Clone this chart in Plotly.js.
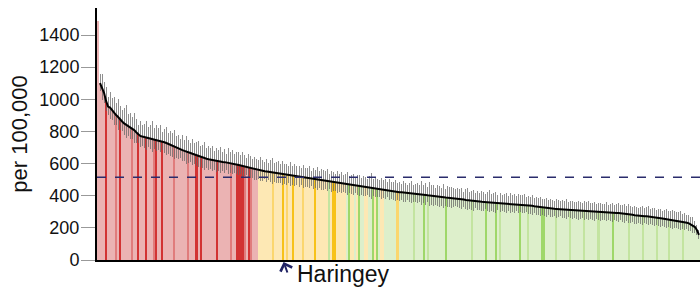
<!DOCTYPE html>
<html>
<head>
<meta charset="utf-8">
<script src="https://cdn.plot.ly/plotly-3.0.1.min.js"></script>
<style>html,body{margin:0;padding:0;background:#fff;}#chart{width:700px;height:291px;}</style>
</head>
<body>
<div id="chart"></div>
<script>
// Rate per 100,000 for each area, sorted descending
const rates = [
1490,1100,1068,1040,990,955,948,930,915,902,
890,872,862,850,842,830,822,815,808,795,
782,772,768,765,762,760,757,754,751,748,
745,742,737,733,728,722,715,709,703,697,
692,688,684,679,673,669,666,661,656,651,
646,641,637,633,630,627,624,621,618,615,
613,611,610,609,607,605,603,600,597,594,
591,588,585,582,578,574,570,566,563,560,
558,556,554,552,550,548,546,544,542,540,
538,536,533,531,529,527,525,523,521,519,
517,515,513,511,509,507,505,503,501,499,
497,495,493,491,489,487,485,483,481,479,
478,476,474,472,470,468,466,465,463,461,
459,457,456,454,452,450,449,448,446,444,
442,440,438,436,434,432,430,428,426,424,
422,421,420,419,417,416,415,414,413,412,
411,409,407,405,403,401,399,397,395,393,
392,391,390,389,388,387,386,385,384,382,
380,378,376,374,372,370,368,367,366,364,
363,362,361,360,359,358,357,356,355,354,
353,352,351,350,349,349,348,348,348,348,
347,346,345,343,341,339,337,335,333,331,
329,327,325,323,322,321,320,319,318,317,
316,315,314,313,312,311,310,309,308,307,
306,305,305,304,303,302,301,300,299,298,
297,296,296,295,294,294,293,293,292,292,
291,289,287,285,284,282,281,279,277,276,
275,274,273,272,271,270,268,266,264,262,
260,258,256,255,253,252,250,248,246,244,
242,239,236,232,228,222,215,205,185,156
];
// Upper and lower confidence-interval extents
const ciUpper = [
0,60,90,70,85,60,95,80,100,75,
110,85,70,95,120,80,90,75,105,85,
60,95,70,80,100,65,85,110,70,90,
75,95,60,85,100,70,90,80,105,75,
85,65,95,70,100,80,60,90,75,85,
95,70,80,100,65,85,75,90,60,80,
70,95,65,80,55,90,70,85,60,75,
80,65,90,70,55,85,75,60,80,70,
65,85,70,60,80,55,75,90,60,70,
75,60,80,65,70,55,85,60,75,65,
70,55,80,60,65,75,50,70,60,80,
55,70,65,60,75,50,70,65,55,75,
60,70,55,65,80,55,60,70,50,65,
70,55,65,60,50,70,95,55,65,60,
55,70,60,65,50,75,55,60,70,55,
65,55,70,60,50,65,75,55,60,70,
55,80,60,75,50,85,65,70,55,75,
70,60,80,55,75,65,70,60,55,65,
60,70,50,65,75,55,60,70,50,65,
55,70,60,50,65,75,55,60,70,50,
65,55,60,70,50,65,55,60,50,65,
55,60,65,50,60,55,65,50,60,55,
60,50,55,65,50,60,55,50,60,55,
50,60,55,65,50,55,60,50,55,60,
55,50,60,55,65,50,55,60,50,55,
60,50,55,65,50,55,60,50,55,60,
50,55,60,50,65,55,50,60,55,50,
55,60,50,55,65,50,55,60,50,55,
60,50,55,65,50,55,60,55,50,55,
60,50,55,45,50,45,50,40,35,30
];
const ciLower = [
0,50,70,60,65,55,70,60,75,60,
80,65,60,70,85,60,70,60,80,65,
55,70,60,65,75,55,65,80,60,70,
60,70,55,65,75,60,70,65,75,60,
65,55,70,60,75,65,55,70,60,65,
70,60,65,75,55,65,60,70,55,65,
60,70,55,65,50,70,60,65,55,60,
65,55,70,60,50,65,60,55,65,60,
55,65,60,50,65,50,60,70,55,60,
60,55,65,55,60,50,65,55,60,55,
60,50,65,55,55,60,45,60,50,65,
50,60,55,50,60,45,60,55,50,60,
55,60,50,55,65,50,55,60,45,55,
60,50,55,55,45,60,70,50,55,50,
50,60,55,55,45,60,50,55,60,50,
55,50,60,55,45,55,60,50,55,60,
50,65,55,60,45,65,55,60,50,60,
60,55,65,50,60,55,60,55,50,55,
55,60,45,55,60,50,55,60,45,55,
50,60,55,45,55,60,50,55,60,45,
55,50,55,60,45,55,50,55,45,55,
50,55,55,45,55,50,55,45,55,50,
55,45,50,55,45,55,50,45,55,50,
45,55,50,55,45,50,55,45,50,55,
50,45,55,50,55,45,50,55,45,50,
55,45,50,55,45,50,55,45,50,55,
45,50,55,45,55,50,45,55,50,45,
50,55,45,50,55,45,50,55,45,50,
55,45,50,55,45,50,55,50,45,50,
55,45,50,40,45,40,45,35,30,25
];
// Comparison class per area: r/m/R = higher (light/mid/highlighted),
// y/n/Y = similar, g/h/G = lower
const classChunks = [
"rrrrRrrrrm","rRrrrrrmrr","RrrrRrrrmR","rrRrrrrrmr","rrrrrmrrrR",
"rRrrrrrrrR","rrrrrrmrrR","RRRmrRmrrr","yyyyyyynyy","yyYynyyYyy",
"yynyyyyyYy","yyyyyhyYYy","yyyygGyygy","GggyyggGyG","gyyggggggn",
"ggggggghgg","ggGghggggg","gggGgggggg","gggggghggg","gggGggggGg",
"hggggggggg","Gggghggggg","gGGggggghg","ggggghgggg","gghggggggh",
"ggggggGggg","gggghggggg","ghgggggghg","gggghggggg","ghgggggggg"
];
const benchmark = 515;
const highlightIndex = 92;
const highlightName = "Haringey";

const classes = classChunks.join("").split("");
const palette = {
  r: "#ebb3b3", m: "#e07c7c", R: "#d23333",
  y: "#fde8b4", n: "#fbd66e", Y: "#f7c219",
  g: "#ddefcb", h: "#c3e4a0", G: "#9fd76a"
};
const idx = rates.map((_, i) => i);

const bars = {
  type: "bar", x: idx, y: rates, width: 1,
  marker: { color: classes.map(c => palette[c] || "#ddd"), line: { width: 0 } },
  error_y: {
    type: "data", symmetric: false, array: ciUpper, arrayminus: ciLower,
    color: "rgba(100,100,100,0.72)", thickness: 1, width: 0
  },
  hoverinfo: "y", showlegend: false
};
const line = {
  type: "scatter", mode: "lines", x: idx.slice(1), y: rates.slice(1),
  line: { color: "#000", width: 2 }, hoverinfo: "skip", showlegend: false
};

const layout = {
  width: 700, height: 291,
  margin: { l: 97, r: 0, t: 8, b: 31 },
  paper_bgcolor: "#fff", plot_bgcolor: "#fff",
  bargap: 0,
  font: { family: "Liberation Sans, Arial, sans-serif", color: "#111" },
  xaxis: {
    range: [-0.5, rates.length - 0.5], showticklabels: false, ticks: "",
    showgrid: false, zeroline: false, showline: true, linecolor: "#000", linewidth: 2
  },
  yaxis: {
    range: [0, 1568], tickvals: [0, 200, 400, 600, 800, 1000, 1200, 1400],
    ticks: "outside", ticklen: 14, tickcolor: "#999", tickwidth: 1,
    ticklabelstandoff: -2,
    tickfont: { size: 18, color: "#111" },
    showgrid: false, zeroline: false, showline: true, linecolor: "#000", linewidth: 2,
    title: { text: "per 100,000", font: { size: 22, color: "#111" }, standoff: 6 }
  },
  shapes: [{
    type: "line", xref: "paper", x0: 0, x1: 1, yref: "y", y0: benchmark, y1: benchmark,
    line: { color: "#2a2c6c", width: 1.5, dash: "dash" }, layer: "above"
  }],
  annotations: [
    {
      xref: "x", yref: "y", x: highlightIndex, y: 0, text: "", showarrow: true,
      arrowhead: 4, arrowsize: 1.2, arrowwidth: 2, arrowcolor: "#1f2163",
      ax: 5, ay: 14, standoff: 2
    },
    {
      xref: "x", yref: "paper", x: highlightIndex, y: 0, text: highlightName,
      showarrow: false, xanchor: "left", yanchor: "top", xshift: 12, yshift: 1,
      font: { size: 23, color: "#111" }
    }
  ]
};

Plotly.newPlot("chart", [bars, line], layout, { staticPlot: true, displayModeBar: false });
</script>
</body>
</html>
